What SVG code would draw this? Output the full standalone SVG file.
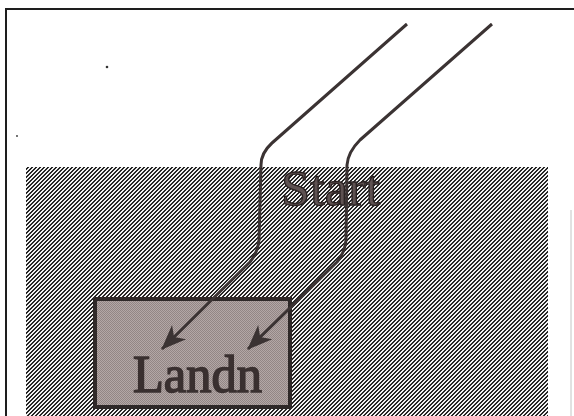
<svg xmlns="http://www.w3.org/2000/svg" width="574" height="416" viewBox="0 0 574 416">
  <style>
    .frame { stroke: #1e1e1e; stroke-width: 2; fill: none; }
    .conn { stroke: #3b3333; stroke-width: 3; fill: none; stroke-linejoin: round; }
    .label { font-family: "Liberation Serif", "Times New Roman", serif; }
    .speck { fill: #333; }
  </style>
  <defs>
    <pattern id="hatch" x="0" y="0" width="4" height="4" patternUnits="userSpaceOnUse">
      <rect width="4" height="4" fill="#f2f2f2"/>
      <path d="M2 0h2v1h-2z M1 1h2v1h-2z M0 2h2v1h-2z M3 3h1v1h-1z M0 3h1v1h-1z" fill="#262626"/>
    </pattern>
    <pattern id="stipple" x="0" y="0" width="2" height="2" patternUnits="userSpaceOnUse">
      <rect width="2" height="2" fill="#b3a7a6"/>
      <rect width="1" height="1" fill="#928685"/>
      <rect x="1" y="1" width="1" height="1" fill="#928685"/>
    </pattern>
    <marker id="arr" viewBox="-26 -12 28 24" refX="0" refY="0" markerWidth="28" markerHeight="24" markerUnits="userSpaceOnUse" orient="auto">
      <path d="M1,0 L-24,-10 L-17,0 L-24,10 Z" fill="#3b3333"/>
    </marker>
  </defs>

  <rect width="574" height="416" fill="#ffffff"/>

  <g id="frame">
    <line class="frame" x1="6" y1="9" x2="574" y2="9"/>
    <line class="frame" x1="6" y1="8" x2="6" y2="416"/>
    <line x1="571" y1="210" x2="571" y2="416" stroke="#c4c4c4" stroke-width="1"/>
    <circle class="speck" cx="107" cy="67" r="1.3"/>
    <circle class="speck" cx="17" cy="136" r="0.9"/>
  </g>

  <g id="start">
    <rect x="26" y="167" width="522" height="249" fill="url(#hatch)"/>
    <text class="label" x="281" y="205" font-size="50" textLength="99" lengthAdjust="spacingAndGlyphs" fill="#5e5252" stroke="#2a2222" stroke-width="1.3">Start</text>
  </g>

  <g id="landn">
    <rect x="95" y="299" width="195" height="108" fill="url(#stipple)" stroke="#2e2828" stroke-width="4"/>
    <text class="label" x="133" y="392" font-size="52" textLength="129" lengthAdjust="spacingAndGlyphs" fill="#3a3030" stroke="#3a3030" stroke-width="1.6">Landn</text>
  </g>

  <g id="connectors">
    <path class="conn" d="M407,24 L272,143 Q261,153 261,165 L259,240 Q258,252 250,262 L162,349" marker-end="url(#arr)"/>
    <path class="conn" d="M492,24 L360,140 Q348,152 347,165 L346,240 Q345,252 337,262 L248,349" marker-end="url(#arr)"/>
  </g>
</svg>
